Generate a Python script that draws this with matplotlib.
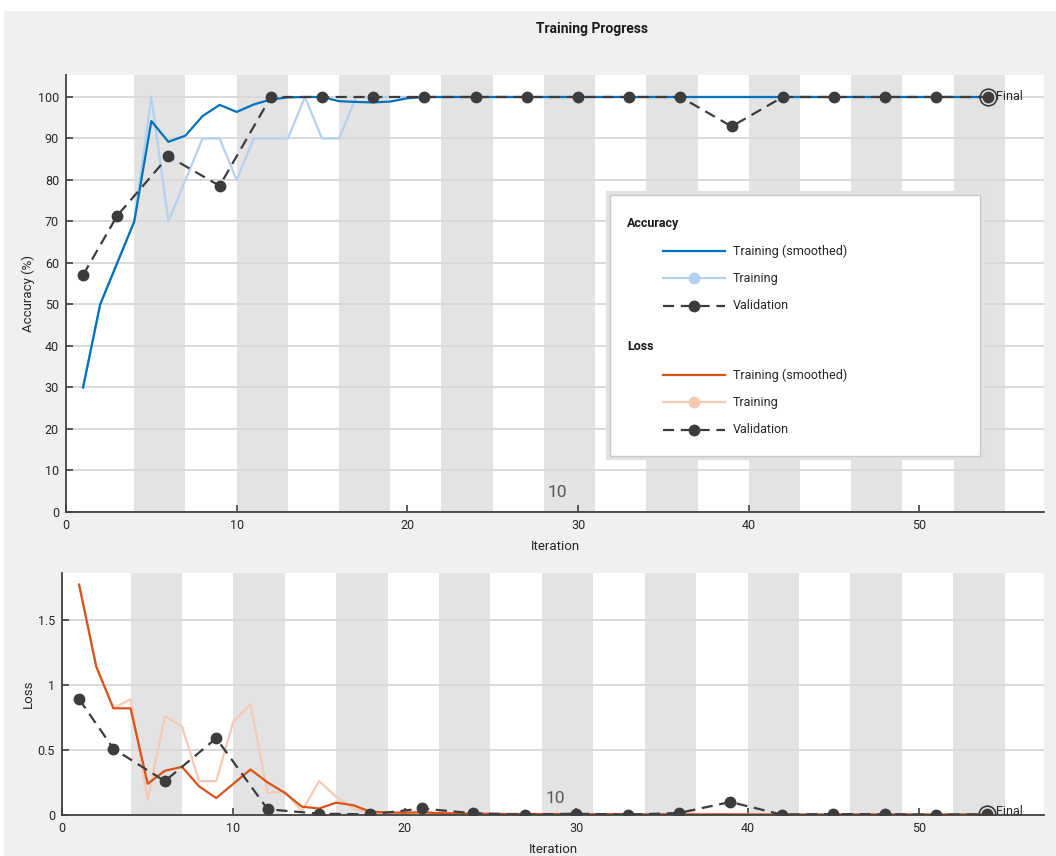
import numpy as np
import matplotlib
matplotlib.use("Agg")
import matplotlib.pyplot as plt
from matplotlib.lines import Line2D
from matplotlib.patches import Rectangle

plt.rcParams['font.family'] = ['Roboto', 'DejaVu Sans']

# ---- data ----
iterations = list(range(1, 55))
acc_smooth = [30, 50, 60, 70, 94.2, 89.2, 90.7, 95.4, 98.1, 96.4, 98.2, 99.4, 99.9, 100,
              100, 99.0, 98.8, 98.7, 98.9, 99.7, 100, 100, 100, 100, 100, 100, 100, 100,
              100, 100, 100, 100, 100, 100, 100, 100, 100, 100, 100, 100, 100, 100, 100, 100,
              100, 100, 100, 100, 100, 100, 100, 100, 100, 100]
acc_raw = [30, 50, 60, 70, 100, 70, 80, 90, 90, 80, 90, 90, 90, 100, 90, 90, 100, 100,
           100, 100, 100, 100, 100, 100, 100, 100, 100, 100, 100, 100, 100, 100, 100, 100,
           100, 100, 100, 100, 100, 100, 100, 100, 100, 100, 100, 100, 100, 100, 100, 100,
           100, 100, 100, 100]
loss_smooth = [1.77, 1.14, 0.82, 0.82, 0.24, 0.34, 0.37, 0.22, 0.13, 0.24, 0.35, 0.25, 0.17,
               0.064, 0.05, 0.095, 0.075, 0.025, 0.02, 0.017, 0.02, 0.015, 0.012, 0.01,
               0.009, 0.008, 0.008, 0.007, 0.007, 0.006, 0.006, 0.006, 0.005, 0.005, 0.005,
               0.005, 0.005, 0.005, 0.005, 0.004, 0.004, 0.004, 0.004, 0.004, 0.004, 0.004,
               0.004, 0.004, 0.004, 0.004, 0.004, 0.004, 0.004, 0.004]
loss_raw = [1.77, 1.14, 0.82, 0.89, 0.115, 0.76, 0.68, 0.26, 0.26, 0.72, 0.85, 0.17, 0.18,
            0.03, 0.26, 0.14, 0.05, 0.01, 0.01, 0.02, 0.03, 0.01, 0.008, 0.006, 0.007,
            0.005, 0.006, 0.005, 0.006, 0.004, 0.005, 0.004, 0.005, 0.004, 0.004, 0.005,
            0.004, 0.004, 0.003, 0.004, 0.004, 0.003, 0.004, 0.004, 0.003, 0.004, 0.004,
            0.003, 0.004, 0.003, 0.004, 0.003, 0.004, 0.004]

val_iters = [1, 3, 6, 9, 12, 15, 18, 21, 24, 27, 30, 33, 36, 39, 42, 45, 48, 51, 54]
val_acc = [57.1, 71.4, 85.7, 78.6, 100, 100, 100, 100, 100, 100, 100, 100, 100, 92.9,
           100, 100, 100, 100, 100]
val_loss = [0.89, 0.51, 0.26, 0.59, 0.044, 0.01, 0.005, 0.05, 0.013, 0.003, 0.01, 0.003,
            0.015, 0.10, 0.003, 0.007, 0.006, 0.003, 0.005]

# shaded epochs (every other epoch, 3 iterations each)
shade_starts = [4, 10, 16, 22, 28, 34, 40, 46, 52]
epoch_width = 3

BLUE = '#0072BD'
BLUE_LIGHT = '#b3d1ee'
ORANGE = '#D95319'
ORANGE_LIGHT = '#f6c9b4'
DARK = '#3c3c3c'
BG = '#f0f0f0'

W, H = 1056, 856
fig = plt.figure(figsize=(W / 100, H / 100), dpi=100, facecolor='white')
fig.patches.append(Rectangle((4 / W, 0), 1 - 4 / W, 1 - 11 / H, transform=fig.transFigure,
                             facecolor=BG, edgecolor='none', zorder=-10))

ax1 = fig.add_axes([66 / W, 1 - 512 / H, (1044 - 66) / W, (512 - 75) / H])
ax2 = fig.add_axes([62 / W, 1 - 815 / H, (1044 - 62) / W, (815 - 573) / H])


def style_axes(ax, ylim, yticks, yticklabels, ylabel):
    ax.set_facecolor('white')
    ax.set_xlim(0, 57.3)
    ax.set_ylim(*ylim)
    for s in shade_starts:
        ax.axvspan(s, s + epoch_width, color='#e3e3e3', lw=0, zorder=0)
    ax.set_yticks(yticks)
    ax.set_yticklabels(yticklabels)
    ax.set_xticks([0, 10, 20, 30, 40, 50])
    ax.yaxis.grid(True, color='#d9d9d9', lw=1.4, zorder=1)
    ax.set_axisbelow(False)
    for side in ['top', 'right']:
        ax.spines[side].set_visible(False)
    for side in ['left', 'bottom']:
        ax.spines[side].set_color('#404040')
        ax.spines[side].set_linewidth(1.3)
        ax.spines[side].set_zorder(6)
    ax.tick_params(direction='in', length=5, width=1.2, color='#404040',
                   labelsize=9, labelcolor='#262626', pad=5)
    ax.set_xlabel('Iteration', fontsize=9.5, color='#262626', labelpad=6)
    ax.set_ylabel(ylabel, fontsize=9.5, color='#262626')


style_axes(ax1, (0, 105.3), list(range(0, 101, 10)), [str(v) for v in range(0, 101, 10)],
           'Accuracy (%)')
style_axes(ax2, (0, 1.86), [0, 0.5, 1, 1.5], ['0', '0.5', '1', '1.5'], 'Loss')
ax1.yaxis.set_label_coords(-0.032, 0.5)
ax2.yaxis.set_label_coords(-0.028, 0.5)

# accuracy
ax1.plot(iterations, acc_raw, color=BLUE_LIGHT, lw=1.6, zorder=3)
ax1.plot(iterations, acc_smooth, color=BLUE, lw=1.6, zorder=4)
ax1.plot(val_iters, val_acc, color=DARK, lw=1.6, ls=(0, (5, 3)), marker='o', ms=7.5,
         zorder=5)
ax1.plot(val_iters[-1], val_acc[-1], 'o', ms=12, mfc='none', mec=DARK, mew=1.2, zorder=5)
ax1.text(val_iters[-1] + 0.5, val_acc[-1], 'Final', fontsize=9, va='center', color='#262626')
ax1.text(28.8, 4.6, '10', fontsize=12.5, color='#555555', ha='center', va='center')

# loss
ax2.plot(iterations, loss_raw, color=ORANGE_LIGHT, lw=1.6, zorder=3)
ax2.plot(iterations, loss_smooth, color=ORANGE, lw=1.6, zorder=4)
ax2.plot(val_iters, val_loss, color=DARK, lw=1.6, ls=(0, (5, 3)), marker='o', ms=7.5,
         zorder=5)
ax2.plot(val_iters[-1], val_loss[-1], 'o', ms=12, mfc='none', mec=DARK, mew=1.2, zorder=5)
ax2.text(val_iters[-1] + 0.5, val_loss[-1] + 0.02, 'Final', fontsize=9, va='center',
         color='#262626')
ax2.text(28.8, 0.13, '10', fontsize=12.5, color='#555555', ha='center', va='center')

fig.text(592 / W, 1 - 29 / H, 'Training Progress', fontsize=10, fontweight='bold',
         ha='center', va='center', color='#1a1a1a')


# ---- legend drawn by hand in pixel positions ----
def fx(x):
    return x / W


def fy(y):
    return 1 - y / H


fig.patches.append(Rectangle((fx(608), fy(458)), fx(374), (458 - 193) / H,
                             transform=fig.transFigure, facecolor='none',
                             edgecolor='#e2e2e2', lw=3, zorder=20))
fig.patches.append(Rectangle((fx(610), fy(456)), fx(370), (456 - 195) / H,
                             transform=fig.transFigure, facecolor='white',
                             edgecolor='#c8c8c8', lw=1, zorder=21))

legend_groups = [
    ('Accuracy', 223, [(BLUE, '-', None, 'Training (smoothed)'),
                       (BLUE_LIGHT, '-', 'o', 'Training'),
                       (DARK, (0, (5, 3)), 'o', 'Validation')]),
    ('Loss', 347, [(ORANGE, '-', None, 'Training (smoothed)'),
                   (ORANGE_LIGHT, '-', 'o', 'Training'),
                   (DARK, (0, (5, 3)), 'o', 'Validation')]),
]
for header, hy, entries in legend_groups:
    fig.text(fx(627), fy(hy), header, fontsize=9, fontweight='bold', va='center',
             color='#1a1a1a', zorder=22)
    for k, (c, ls, mk, lab) in enumerate(entries):
        yy = fy(hy + 28 + 27.3 * k)
        fig.lines.append(Line2D([fx(663), fx(725)], [yy, yy], transform=fig.transFigure,
                                color=c, ls=ls, lw=1.6, zorder=22))
        if mk:
            fig.lines.append(Line2D([fx(694)], [yy], transform=fig.transFigure, color=c,
                                    marker=mk, ms=7.5, zorder=23))
        fig.text(fx(733), yy, lab, fontsize=9, va='center', color='#262626', zorder=22)

fig.savefig('out.png', dpi=100, facecolor=fig.get_facecolor())
